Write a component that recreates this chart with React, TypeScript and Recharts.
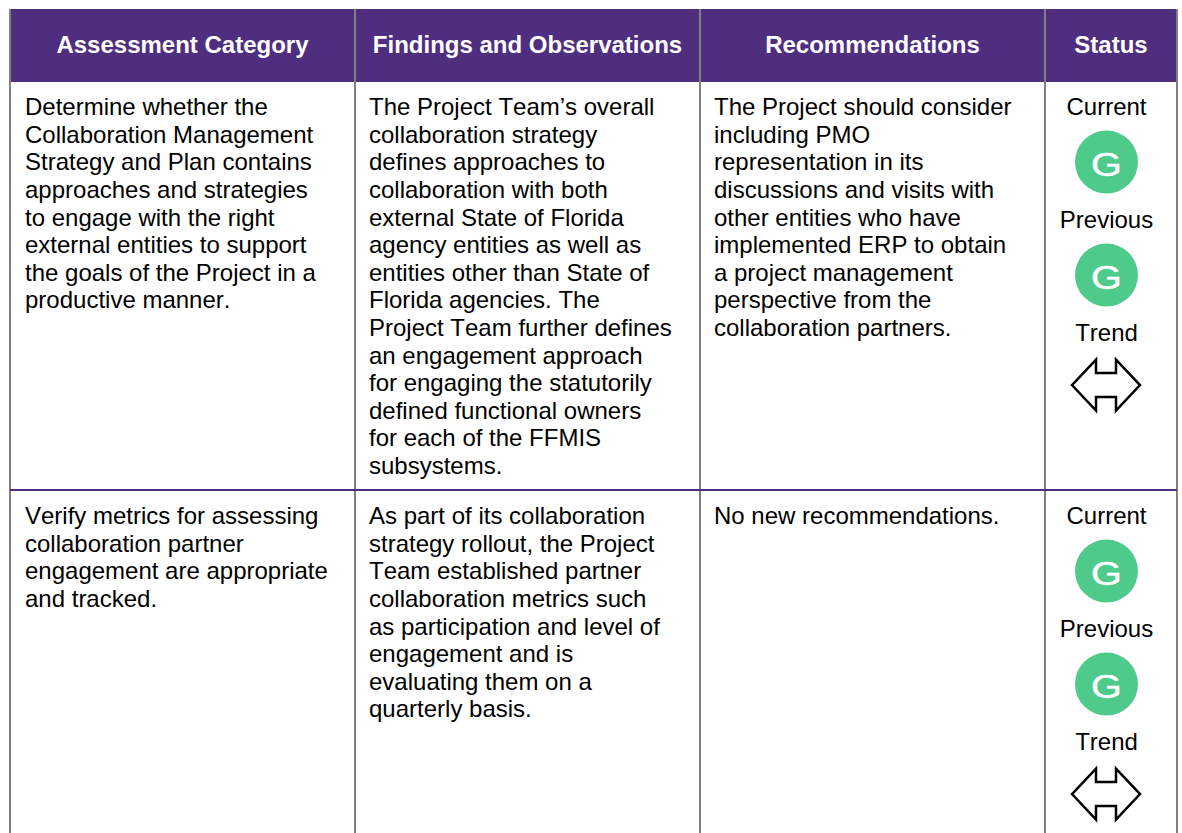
import {
  ComposedChart,
  Scatter,
  XAxis,
  YAxis,
  ReferenceArea,
  ReferenceLine,
} from "recharts"

const headers = [
  "Assessment Category",
  "Findings and Observations",
  "Recommendations",
  "Status",
]

const categoryRow1 = [
  "Determine whether the",
  "Collaboration Management",
  "Strategy and Plan contains",
  "approaches and strategies",
  "to engage with the right",
  "external entities to support",
  "the goals of the Project in a",
  "productive manner.",
]
const findingsRow1 = [
  "The Project Team’s overall",
  "collaboration strategy",
  "defines approaches to",
  "collaboration with both",
  "external State of Florida",
  "agency entities as well as",
  "entities other than State of",
  "Florida agencies. The",
  "Project Team further defines",
  "an engagement approach",
  "for engaging the statutorily",
  "defined functional owners",
  "for each of the FFMIS",
  "subsystems.",
]
const recommendationsRow1 = [
  "The Project should consider",
  "including PMO",
  "representation in its",
  "discussions and visits with",
  "other entities who have",
  "implemented ERP to obtain",
  "a project management",
  "perspective from the",
  "collaboration partners.",
]
const categoryRow2 = [
  "Verify metrics for assessing",
  "collaboration partner",
  "engagement are appropriate",
  "and tracked.",
]
const findingsRow2 = [
  "As part of its collaboration",
  "strategy rollout, the Project",
  "Team established partner",
  "collaboration metrics such",
  "as participation and level of",
  "engagement and is",
  "evaluating them on a",
  "quarterly basis.",
]
const recommendationsRow2 = ["No new recommendations."]

const statusLabels = ["Current", "Previous", "Trend"]
const ratings = ["G", "G"]

const WIDTH = 1182
const HEIGHT = 833
const PURPLE = "#4f2d7f"
const GREY = "#808080"
const GREEN = "#4ecb8a"
const FONT = "'Liberation Sans', Arial, sans-serif"
const FONT_SIZE = 24
const LINE_HEIGHT = 27.6

const columnEdges = [10, 355, 700, 1045, 1177]
const textLeft = [25, 369, 714]
const statusCenter = 1106.5
const rowTops = [115.1, 524.1]

type Line = { x: number; y: number; text: string }

function cellLines(lines: string[], column: number, row: number): Line[] {
  return lines.map((text, i) => ({
    x: textLeft[column],
    y: rowTops[row] + i * LINE_HEIGHT,
    text,
  }))
}

const bodyLines: Line[] = [
  ...cellLines(categoryRow1, 0, 0),
  ...cellLines(findingsRow1, 1, 0),
  ...cellLines(recommendationsRow1, 2, 0),
  ...cellLines(categoryRow2, 0, 1),
  ...cellLines(findingsRow2, 1, 1),
  ...cellLines(recommendationsRow2, 2, 1),
]

const headerPoints = headers.map((text, i) => ({
  x: (columnEdges[i] + columnEdges[i + 1]) / 2,
  y: 53,
  text,
}))

const statusTextPoints = rowTops.flatMap((top) =>
  statusLabels.map((text, i) => ({ x: statusCenter, y: top + i * 113, text })),
)

const circlePoints = rowTops.flatMap((top) =>
  ratings.map((text, i) => ({ x: statusCenter, y: top + 47 + i * 113, text })),
)

const arrowPoints = rowTops.map((top) => ({ x: statusCenter - 0.5, y: top + 270 }))

const noKerning = { fontKerning: "none" } as const

function BodyText({ cx, cy, payload }: any) {
  return (
    <text x={cx} y={cy} fontFamily={FONT} fontSize={FONT_SIZE} fill="#000" style={noKerning}>
      {payload.text}
    </text>
  )
}

function CenterText({ cx, cy, payload }: any) {
  return (
    <text
      x={cx}
      y={cy}
      textAnchor="middle"
      fontFamily={FONT}
      fontSize={FONT_SIZE}
      fill="#000"
      style={noKerning}
    >
      {payload.text}
    </text>
  )
}

function HeaderText({ cx, cy, payload }: any) {
  return (
    <text
      x={cx}
      y={cy}
      textAnchor="middle"
      fontFamily={FONT}
      fontSize={FONT_SIZE}
      fontWeight="bold"
      fill="#fff"
      style={noKerning}
    >
      {payload.text}
    </text>
  )
}

function RatingCircle({ cx, cy, payload }: any) {
  return (
    <g>
      <circle cx={cx} cy={cy} r={31.5} fill={GREEN} />
      {/* the G in the reference is a stretched glyph */}
      <text
        transform={`translate(${cx} ${cy + 14}) scale(1.2 1)`}
        textAnchor="middle"
        fontFamily={FONT}
        fontSize={33}
        fill="#fff"
        stroke="#fff"
        strokeWidth={0.4}
      >
        {payload.text}
      </text>
    </g>
  )
}

function TrendArrow({ cx, cy }: any) {
  const d = [
    [-34, 0],
    [-10, -25.5],
    [-10, -12],
    [10, -12],
    [10, -25.5],
    [34, 0],
    [10, 25.5],
    [10, 12],
    [-10, 12],
    [-10, 25.5],
  ]
    .map(([dx, dy]) => `${cx + dx},${cy + dy}`)
    .join(" ")
  return <polygon points={d} fill="#fff" stroke="#000" strokeWidth={2.5} />
}

export default function App() {
  return (
    <div style={{ position: "absolute", left: 0, top: 0, width: WIDTH, height: HEIGHT }}>
      <ComposedChart width={WIDTH} height={HEIGHT} margin={{ top: 0, right: 0, bottom: 0, left: 0 }}>
        <XAxis type="number" dataKey="x" domain={[0, WIDTH]} hide />
        <YAxis type="number" dataKey="y" domain={[0, HEIGHT]} reversed hide />
        <ReferenceArea x1={10} x2={1177} y1={9} y2={82} fill={PURPLE} fillOpacity={1} stroke="none" />
        {columnEdges.map((x) => (
          <ReferenceLine
            key={x}
            segment={[
              { x, y: 9 },
              { x, y: HEIGHT },
            ]}
            stroke={GREY}
            strokeWidth={2}
          />
        ))}
        <ReferenceLine
          segment={[
            { x: 10, y: 490 },
            { x: 1177, y: 490 },
          ]}
          stroke={PURPLE}
          strokeWidth={2}
        />
        <Scatter data={headerPoints} shape={HeaderText} isAnimationActive={false} />
        <Scatter data={bodyLines} shape={BodyText} isAnimationActive={false} />
        <Scatter data={statusTextPoints} shape={CenterText} isAnimationActive={false} />
        <Scatter data={circlePoints} shape={RatingCircle} isAnimationActive={false} />
        <Scatter data={arrowPoints} shape={TrendArrow} isAnimationActive={false} />
      </ComposedChart>
    </div>
  )
}
